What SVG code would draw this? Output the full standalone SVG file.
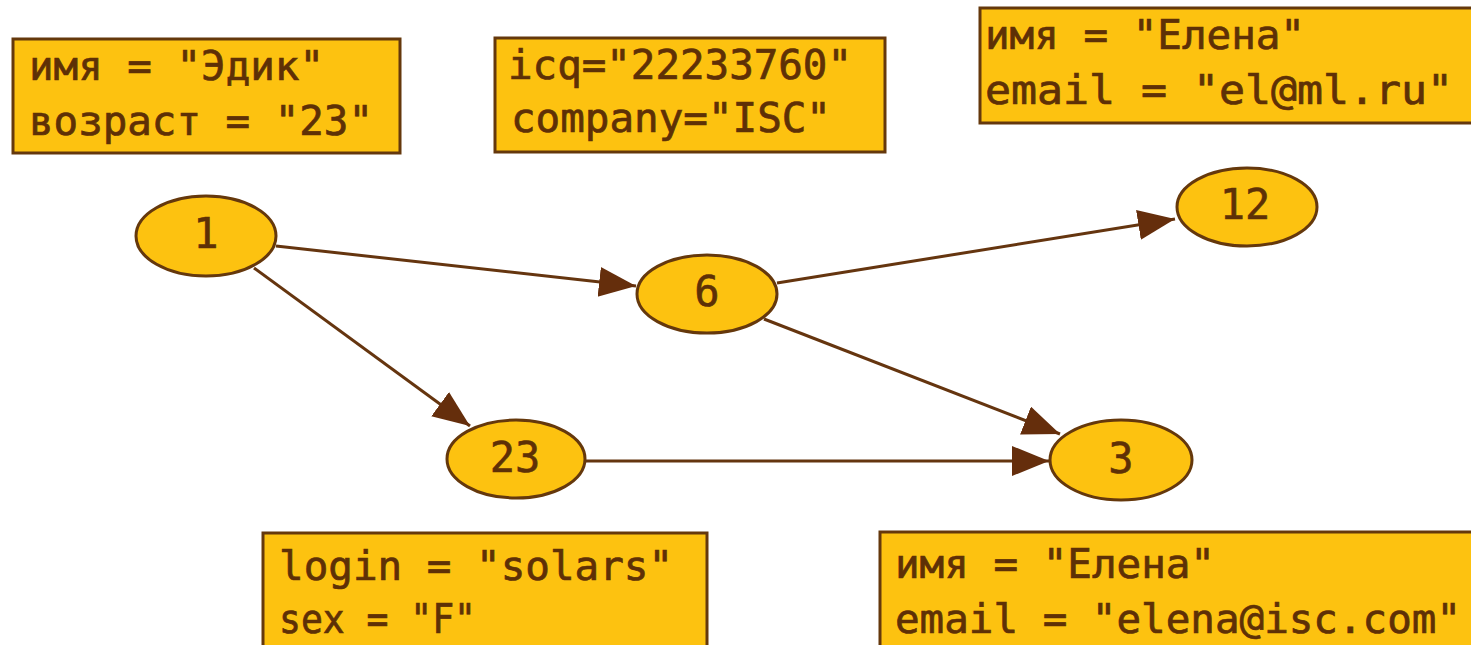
<svg xmlns="http://www.w3.org/2000/svg" width="1471" height="645" viewBox="0 0 1471 645">
<defs>
<style>
.box{fill:#FDC210;stroke:#65380C;stroke-width:3}
.node{fill:#FDC210;stroke:#65380C;stroke-width:3}
.bt{font-family:"DejaVu Sans Mono","Liberation Mono",monospace;font-size:40px;fill:#5E3006;stroke:#5E3006;stroke-width:0.7}
.nt{font-family:"DejaVu Sans Mono","Liberation Mono",monospace;font-size:42px;fill:#5E3006;stroke:#5E3006;stroke-width:0.6;text-anchor:middle}
.edge{stroke:#65350F;stroke-width:3;fill:none;marker-end:url(#ah)}
</style>
<marker id="ah" markerUnits="userSpaceOnUse" markerWidth="40" markerHeight="32" refX="37" refY="15" orient="auto">
<path d="M0,0 L37,15 L0,30 z" fill="#652E0C"/>
</marker>
</defs>
<rect width="1471" height="645" fill="#ffffff"/>
<g id="connectors">
<line class="edge" x1="276" y1="246" x2="636" y2="286"/>
<line class="edge" x1="777" y1="283" x2="1175" y2="219"/>
<line class="edge" x1="254" y1="268" x2="470" y2="426"/>
<line class="edge" x1="764" y1="319" x2="1060" y2="434"/>
<line class="edge" x1="586" y1="461" x2="1049" y2="461"/>
</g>
<g id="box-edik">
<rect class="box" x="13" y="39" width="387" height="114"/>
<text class="bt" x="29" y="80" textLength="295" lengthAdjust="spacingAndGlyphs">имя = "Эдик"</text>
<text class="bt" x="29" y="135" textLength="344" lengthAdjust="spacingAndGlyphs">возраст = "23"</text>
</g>
<g id="box-icq">
<rect class="box" x="495" y="38" width="390" height="114"/>
<text class="bt" x="508" y="79" textLength="344" lengthAdjust="spacingAndGlyphs">icq="22233760"</text>
<text class="bt" x="511" y="132" textLength="320" lengthAdjust="spacingAndGlyphs">company="ISC"</text>
</g>
<g id="box-elena1">
<rect class="box" x="980" y="8" width="510" height="115"/>
<text class="bt" x="985" y="49" textLength="320" lengthAdjust="spacingAndGlyphs">имя = "Елена"</text>
<text class="bt" x="985" y="104" textLength="468" lengthAdjust="spacingAndGlyphs">email = "el@ml.ru"</text>
</g>
<g id="box-solars">
<rect class="box" x="263" y="533" width="444" height="125"/>
<text class="bt" x="279" y="580" textLength="394" lengthAdjust="spacingAndGlyphs">login = "solars"</text>
<text class="bt" x="279" y="633" textLength="197" lengthAdjust="spacingAndGlyphs">sex = "F"</text>
</g>
<g id="box-elena2">
<rect class="box" x="880" y="532" width="610" height="125"/>
<text class="bt" x="895" y="578" textLength="320" lengthAdjust="spacingAndGlyphs">имя = "Елена"</text>
<text class="bt" x="895" y="633" textLength="566" lengthAdjust="spacingAndGlyphs">email = "elena@isc.com"</text>
</g>
<g id="node-1">
<ellipse class="node" cx="206" cy="236" rx="70" ry="40"/>
<text class="nt" x="206" y="248">1</text>
</g>
<g id="node-6">
<ellipse class="node" cx="707" cy="294" rx="70" ry="39"/>
<text class="nt" x="707" y="306">6</text>
</g>
<g id="node-12">
<ellipse class="node" cx="1247" cy="207" rx="70" ry="39"/>
<text class="nt" x="1245" y="219">12</text>
</g>
<g id="node-23">
<ellipse class="node" cx="516" cy="459" rx="69" ry="39"/>
<text class="nt" x="515" y="472">23</text>
</g>
<g id="node-3">
<ellipse class="node" cx="1121" cy="460" rx="71" ry="40"/>
<text class="nt" x="1121" y="473">3</text>
</g>
</svg>
